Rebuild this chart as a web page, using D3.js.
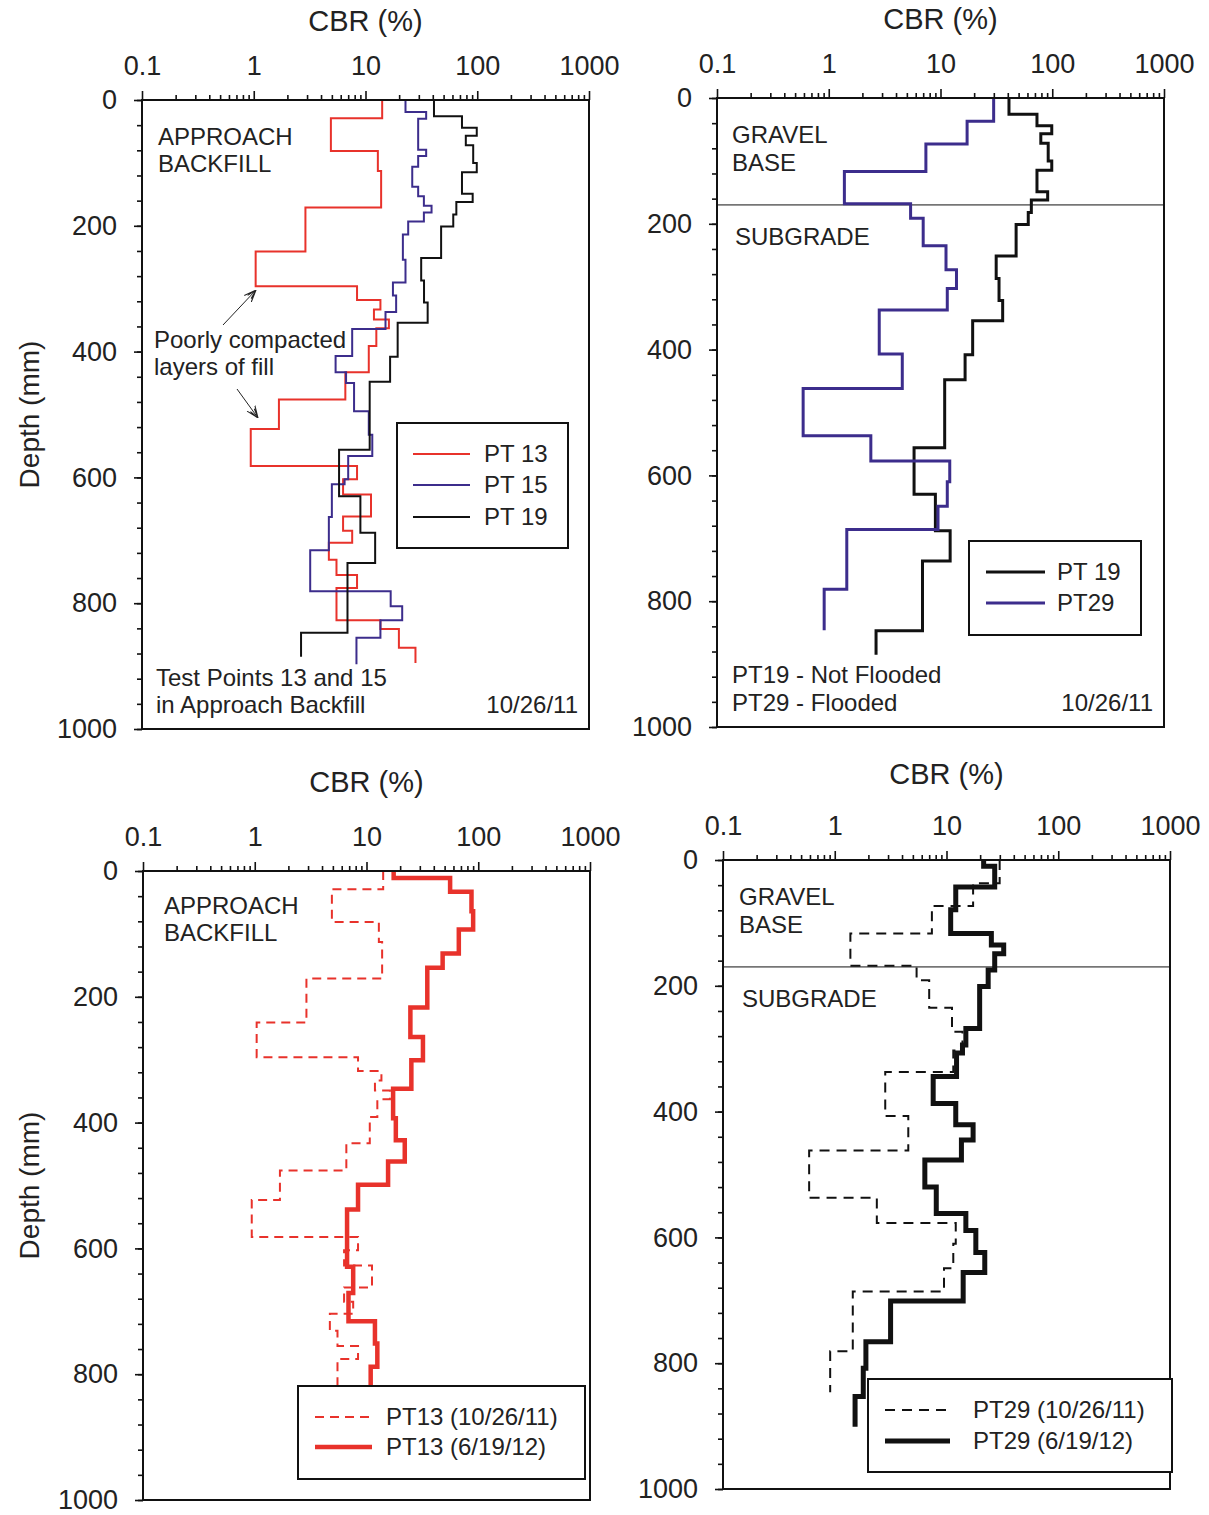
<!DOCTYPE html>
<html>
<head>
  <title>CBR profiles</title>
  <meta charset="utf-8">
  <script type="text/javascript" src="https://d3js.org/d3.v7.min.js"></script>
  <style>
    body { margin: 0; background: #fff; }
    text { font-family: "Liberation Sans", Arial, sans-serif; fill: #222; }
  </style>
</head>
<body>
  <svg id="chart" width="1209" height="1515"></svg>

  <script type="text/javascript">
    "use strict";

    // tick labels
    var xTicks = [0.1, 1, 10, 100, 1000];
    var yTicks = [0, 200, 400, 600, 800, 1000];

    // each series: layer boundaries (mm) and CBR (%) of each layer
    var pt13Depth = [0, 29, 81, 113, 171, 241, 296, 318, 333, 349, 363, 391, 433, 476, 523, 582, 603, 627, 662, 685, 704, 731, 755, 776, 827, 841, 871, 895];
    var pt13Cbr   = [14.1, 4.9, 12.9, 13.8, 2.9, 1.04, 8.4, 13.6, 11.9, 16.2, 12.5, 10.7, 6.6, 1.68, 0.94, 8.4, 6.3, 11.2, 6.3, 7.6, 4.7, 5.5, 8.4, 5.5, 13.6, 19.9, 28];

    var pt15Depth = [0, 19, 30, 79, 89, 106, 138, 153, 168, 179, 193, 214, 254, 290, 311, 337, 364, 407, 433, 450, 495, 532, 566, 603, 611, 663, 716, 781, 805, 827, 855, 897];
    var pt15Cbr   = [22.8, 34.9, 29.6, 34.9, 29.6, 26.2, 29.6, 33.3, 39, 33.3, 24.1, 21.6, 22.8, 17.6, 18.8, 15.1, 7.6, 5.4, 6.7, 7.9, 10.7, 11.5, 7.0, 6.5, 5.0, 4.7, 3.2, 16.8, 21.3, 13.6, 8.3];

    var pt19Depth = [0, 26, 44, 57, 72, 100, 115, 149, 162, 182, 201, 251, 287, 322, 354, 408, 448, 556, 630, 688, 736, 847, 885];
    var pt19Cbr   = [41, 73, 99, 79, 92, 99, 73, 91, 65, 61, 47.5, 31.5, 33.4, 36, 19.4, 16.6, 10.9, 5.8, 9.0, 12.2, 6.9, 2.65];

    var pt29Depth = [0, 37, 73, 117, 168, 191, 235, 273, 303, 337, 407, 462, 537, 577, 610, 649, 686, 781, 846];
    var pt29Cbr   = [29.9, 17.3, 7.4, 1.38, 5.4, 7.0, 11.2, 13.9, 11.5, 2.83, 4.55, 0.59, 2.38, 12.1, 11.5, 9.5, 1.45, 0.91];

    var pt13bDepth = [0, 11, 33, 64, 93, 131, 154, 217, 264, 301, 346, 393, 428, 462, 499, 538, 629, 671, 716, 751, 788, 830];
    var pt13bCbr   = [17.5, 56, 87, 90, 67, 48, 35, 24.7, 32, 25.2, 17.3, 18.3, 22, 15.6, 8.4, 6.7, 7.6, 6.9, 11.9, 12.5, 10.9];

    var pt29bDepth = [0, 10, 43, 79, 117, 135, 149, 175, 201, 268, 294, 307, 344, 387, 421, 445, 477, 520, 562, 589, 624, 656, 701, 766, 808, 853, 901];
    var pt29bCbr   = [21.5, 27, 12.1, 10.9, 25.2, 32.5, 27, 23.6, 19.8, 14.9, 13.9, 12.3, 7.6, 12.1, 17.3, 13.6, 6.4, 8.1, 14.9, 18.3, 22, 14.1, 3.16, 1.9, 1.8, 1.52];

    var baseDepth = 170; // gravel base / subgrade boundary

    var red = "#e8322b", blue = "#3c2d8c", black = "#111";

    var panels = [
      { left: 142, top: 100, right: 589, bottom: 729, titleY: 31, yTitle: true,
        series: [
          { name: "PT 13", depth: pt13Depth, cbr: pt13Cbr, color: red, width: 2 },
          { name: "PT 15", depth: pt15Depth, cbr: pt15Cbr, color: blue, width: 2 },
          { name: "PT 19", depth: pt19Depth, cbr: pt19Cbr, color: black, width: 2 }
        ],
        legend: { x: 255, y: 323, w: 171, h: 125, rows: [354, 385, 417], x1: 271, x2: 328, tx: 342 },
        notes: [
          { t: "APPROACH", x: 16, y: 45 }, { t: "BACKFILL", x: 16, y: 72 },
          { t: "Poorly compacted", x: 12, y: 248 }, { t: "layers of fill", x: 12, y: 275 },
          { t: "Test Points 13 and 15", x: 14, y: 586 }, { t: "in Approach Backfill", x: 14, y: 613 },
          { t: "10/26/11", x: 436, y: 613, anchor: "end" }
        ],
        arrows: [[81, 225, 114, 190], [95, 289, 116, 318]]
      },
      { left: 717, top: 98, right: 1164, bottom: 727, titleY: 29, baseLine: true,
        series: [
          { name: "PT 19", depth: pt19Depth, cbr: pt19Cbr, color: black, width: 3 },
          { name: "PT29", depth: pt29Depth, cbr: pt29Cbr, color: blue, width: 3 }
        ],
        legend: { x: 252, y: 443, w: 172, h: 94, rows: [474, 505], x1: 269, x2: 328, tx: 340 },
        notes: [
          { t: "GRAVEL", x: 15, y: 45 }, { t: "BASE", x: 15, y: 73 },
          { t: "SUBGRADE", x: 18, y: 147 },
          { t: "PT19 - Not Flooded", x: 15, y: 585 }, { t: "PT29 - Flooded", x: 15, y: 613 },
          { t: "10/26/11", x: 436, y: 613, anchor: "end" }
        ],
        arrows: []
      },
      { left: 143, top: 871, right: 590, bottom: 1500, titleY: 792, yTitle: true,
        series: [
          { name: "PT13 (10/26/11)", depth: pt13Depth, cbr: pt13Cbr, color: red, width: 2, dash: "9,6" },
          { name: "PT13 (6/19/12)", depth: pt13bDepth, cbr: pt13bCbr, color: red, width: 4.5 }
        ],
        legend: { x: 155, y: 515, w: 287, h: 93, rows: [546, 576], x1: 172, x2: 229, tx: 243 },
        notes: [
          { t: "APPROACH", x: 21, y: 43 }, { t: "BACKFILL", x: 21, y: 70 }
        ],
        arrows: []
      },
      { left: 723, top: 860, right: 1170, bottom: 1489, titleY: 784, baseLine: true,
        series: [
          { name: "PT29 (10/26/11)", depth: pt29Depth, cbr: pt29Cbr, color: black, width: 2, dash: "10,7" },
          { name: "PT29 (6/19/12)", depth: pt29bDepth, cbr: pt29bCbr, color: black, width: 5 }
        ],
        legend: { x: 145, y: 519, w: 304, h: 93, rows: [550, 581], x1: 162, x2: 227, tx: 250 },
        notes: [
          { t: "GRAVEL", x: 16, y: 45 }, { t: "BASE", x: 16, y: 73 },
          { t: "SUBGRADE", x: 19, y: 147 }
        ],
        arrows: []
      }
    ];

    var svg = d3.select("#chart");

    svg.append("defs").append("marker")
      .attr("id", "arrow")
      .attr("viewBox", "0 0 10 10")
      .attr("refX", 10).attr("refY", 5)
      .attr("markerWidth", 12).attr("markerHeight", 12)
      .attr("markerUnits", "userSpaceOnUse")
      .attr("orient", "auto")
      .append("path")
      .attr("d", "M0,1 L10,5 L0,9 M2,3 L10,5 L2,7")
      .attr("fill", "none")
      .attr("stroke", "#222")
      .attr("stroke-width", 0.9);

    // minor log ticks between decades
    var minorX = [];
    for (var e = -1; e < 3; e++) {
      for (var m = 2; m <= 9; m++) minorX.push(m * Math.pow(10, e));
    }
    var minorY = d3.range(0, 1001, 40);

    // layer profile -> step points
    function steps(depth, cbr) {
      var pts = [];
      cbr.forEach(function(v, i) {
        pts.push([v, depth[i]]);
        pts.push([v, depth[i + 1]]);
      });
      return pts;
    }

    panels.forEach(function(p) {
      var w = p.right - p.left, h = p.bottom - p.top;
      var x = d3.scaleLog().domain([0.1, 1000]).range([0, w]);
      var y = d3.scaleLinear().domain([0, 1000]).range([0, h]);

      var g = svg.append("g").attr("transform", `translate(${p.left},${p.top})`);

      // minor ticks
      g.append("g")
        .call(d3.axisTop(x).tickValues(minorX).tickSize(5).tickFormat("").tickSizeOuter(0))
        .call(function(a) { a.select(".domain").remove(); });
      g.append("g")
        .call(d3.axisLeft(y).tickValues(minorY).tickSize(5).tickFormat("").tickSizeOuter(0))
        .call(function(a) { a.select(".domain").remove(); });

      // major ticks + labels
      var xa = g.append("g")
        .call(d3.axisTop(x).tickValues(xTicks).tickSize(9).tickPadding(16)
          .tickFormat(function(d) { return d < 1 ? "0.1" : String(d); }).tickSizeOuter(0));
      var ya = g.append("g")
        .call(d3.axisLeft(y).tickValues(yTicks).tickSize(8).tickPadding(17)
          .tickFormat(d3.format("d")).tickSizeOuter(0));
      [xa, ya].forEach(function(a) {
        a.select(".domain").remove();
        a.selectAll("text").style("font-size", "27px").attr("fill", "#222")
          .style("font-family", "Liberation Sans, Arial, sans-serif");
      });
      g.selectAll(".tick line").attr("stroke", "#111").attr("stroke-width", 1.6);

      if (p.baseLine) {
        g.append("line")
          .attr("x1", 0).attr("x2", w)
          .attr("y1", y(baseDepth)).attr("y2", y(baseDepth))
          .attr("stroke", "#111").attr("stroke-width", 1);
      }

      var line = d3.line()
        .x(function(d) { return x(d[0]); })
        .y(function(d) { return y(d[1]); });

      p.series.forEach(function(s) {
        g.append("path")
          .attr("d", line(steps(s.depth, s.cbr)))
          .attr("fill", "none")
          .attr("stroke", s.color)
          .attr("stroke-width", s.width)
          .attr("stroke-dasharray", s.dash || null)
          .attr("stroke-linejoin", "miter");
      });

      // frame
      g.append("rect")
        .attr("width", w).attr("height", h)
        .attr("fill", "none").attr("stroke", "#111").attr("stroke-width", 2);

      // annotations
      p.notes.forEach(function(n) {
        g.append("text")
          .attr("x", n.x).attr("y", n.y)
          .attr("text-anchor", n.anchor || "start")
          .style("font-size", "24px")
          .text(n.t);
      });
      p.arrows.forEach(function(a) {
        g.append("line")
          .attr("x1", a[0]).attr("y1", a[1]).attr("x2", a[2]).attr("y2", a[3])
          .attr("stroke", "#222").attr("stroke-width", 1)
          .attr("marker-end", "url(#arrow)");
      });

      // legend
      var L = p.legend;
      g.append("rect")
        .attr("x", L.x).attr("y", L.y).attr("width", L.w).attr("height", L.h)
        .attr("fill", "#fff").attr("stroke", "#111").attr("stroke-width", 2);
      p.series.forEach(function(s, i) {
        g.append("line")
          .attr("x1", L.x1).attr("x2", L.x2)
          .attr("y1", L.rows[i]).attr("y2", L.rows[i])
          .attr("stroke", s.color)
          .attr("stroke-width", s.width)
          .attr("stroke-dasharray", s.dash || null);
        g.append("text")
          .attr("x", L.tx).attr("y", L.rows[i] + 8)
          .style("font-size", "24px")
          .text(s.name);
      });

      // axis titles
      svg.append("text")
        .attr("x", (p.left + p.right) / 2).attr("y", p.titleY)
        .attr("text-anchor", "middle")
        .style("font-size", "29px")
        .text("CBR (%)");
      if (p.yTitle) {
        svg.append("text")
          .attr("transform", `translate(39,${(p.top + p.bottom) / 2}) rotate(-90)`)
          .attr("text-anchor", "middle")
          .style("font-size", "28px")
          .text("Depth (mm)");
      }
    });
  </script>
</body>
</html>
